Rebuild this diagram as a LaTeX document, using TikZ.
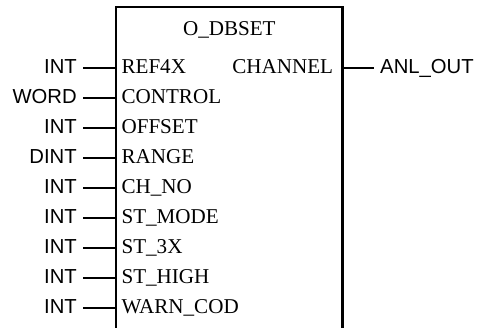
\documentclass[tikz,border=0pt]{standalone}
\usepackage{fontspec}
\setmainfont{Liberation Serif}
\setsansfont{Liberation Sans}
\usepackage{tikz}
\usetikzlibrary{positioning}
\tikzset{
  fbbox/.style={draw=black, line width=2pt},
  wire/.style={draw=black, line width=1.7pt},
  typelbl/.style={font=\sffamily\fontsize{17.3pt}{20pt}\selectfont,
                  inner ysep=0pt, inner xsep=0.19cm},
  portlbl/.style={font=\rmfamily\fontsize{18pt}{20pt}\selectfont,
                  inner sep=0pt},
}
% input pin: id, y, data type, port name
\newcommand{\FBin}[4]{\coordinate (p#1) at (3.48,#2);
  \node[typelbl, anchor=base east] (t#1) at ([shift={(-0.98,-0.171)}]p#1){#3};
  \node[portlbl, anchor=base west] (n#1) at ([shift={(0.16,-0.171)}]p#1){#4};
  \draw[wire] (t#1.east |- p#1) -- (p#1);}

\begin{document}
\begin{tikzpicture}
  \useasboundingbox (0,0) rectangle (14.34,9.81);

  % --- block frame (open at the bottom) ---
  \draw[fbbox] (3.48,-0.1) -- (3.48,9.609) -- (10.28,9.609) -- (10.28,-0.1);
  \node[portlbl, anchor=base] (title) at (6.88,8.73){O\_DBSET};

  % --- inputs ---
  \FBin{1}{7.761}{INT}{REF4X}
  \FBin{2}{6.863}{WORD}{CONTROL}
  \FBin{3}{5.965}{INT}{OFFSET}
  \FBin{4}{5.067}{DINT}{RANGE}
  \FBin{5}{4.169}{INT}{CH\_NO}
  \FBin{6}{3.271}{INT}{ST\_MODE}
  \FBin{7}{2.373}{INT}{ST\_3X}
  \FBin{8}{1.475}{INT}{ST\_HIGH}
  \FBin{9}{0.577}{INT}{WARN\_COD}

  % --- output ---
  \coordinate (q1) at (10.28,7.761);
  \node[portlbl, anchor=base east] (m1) at ([shift={(-0.28,-0.171)}]q1){CHANNEL};
  \node[typelbl, anchor=base west] (o1) at ([shift={(0.93,-0.171)}]q1){ANL\_OUT};
  \draw[wire] (q1) -- (o1.west |- q1);
\end{tikzpicture}
\end{document}
